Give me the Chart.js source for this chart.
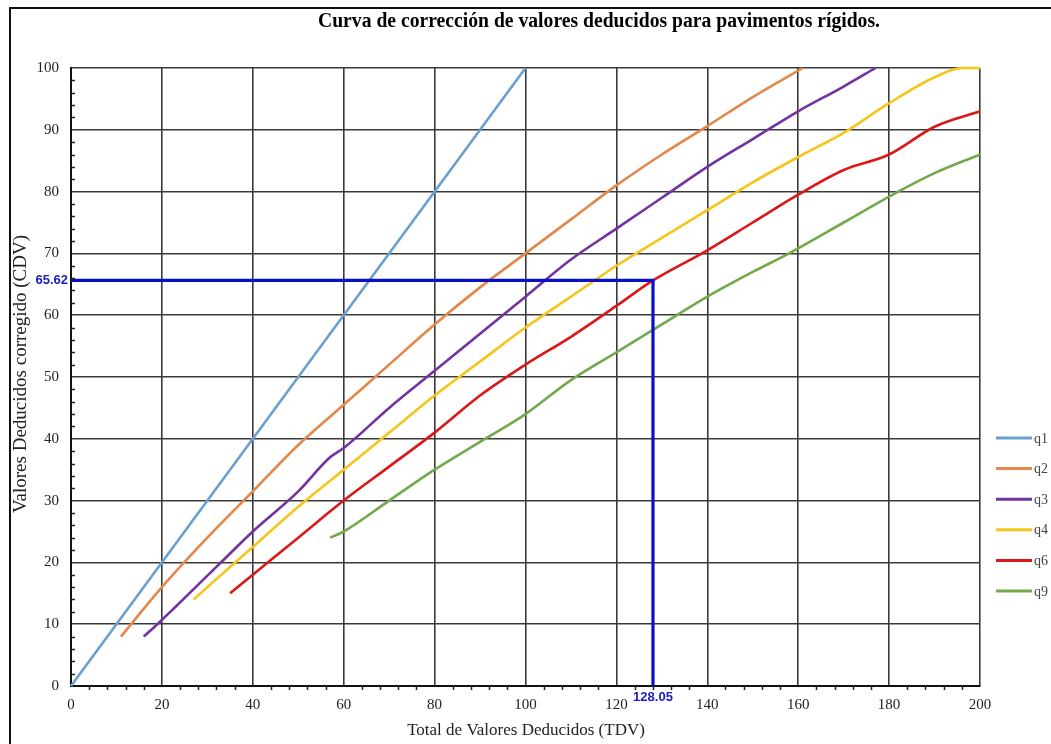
<!DOCTYPE html>
<html>
<head>
<meta charset="utf-8">
<script src="https://cdn.jsdelivr.net/npm/chart.js@4.4.1/dist/chart.umd.min.js"></script>
<style>
  html, body { margin: 0; padding: 0; background: #ffffff; }
  #c { display: block; }
</style>
</head>
<body>
<canvas id="c" width="1051" height="744"></canvas>
<script>
// Correction curves (CDV vs TDV) for rigid pavements, one per q value
const seriesNames = ['q1', 'q2', 'q3', 'q4', 'q6', 'q9'];
const seriesColors = ['#6a9fcf', '#e3874a', '#7232a2', '#f5c518', '#dc1717', '#74a84c'];

const q1X = [0, 100];
const q1Y = [0, 100];

const q2X = [11, 20, 30, 40, 50, 60, 70, 80, 90, 100, 110, 120, 130, 140, 150, 161];
const q2Y = [8, 16, 24, 31.5, 39, 45.5, 52, 58.5, 64.5, 70, 75.5, 81, 86, 90.6, 95.3, 100];

const q3X = [16, 19, 33, 40, 50, 57, 60, 70, 80, 90, 100, 110, 120, 130, 140, 150, 160, 170, 177];
const q3Y = [8, 10, 20, 25, 31.5, 37, 38.5, 45, 51, 57, 63, 69, 74, 79, 84, 88.5, 93, 97, 100];

const q4X = [27, 30, 40, 50, 60, 70, 80, 90, 100, 110, 120, 130, 140, 150, 160, 170, 180, 190, 196, 200];
const q4Y = [14, 16, 22.5, 29, 35, 41, 47, 52.5, 58, 63, 68, 72.5, 77, 81.5, 85.6, 89.5, 94.3, 98.5, 100, 100];

const q6X = [35, 40, 50, 60, 70, 80, 90, 100, 110, 120, 128.05, 140, 150, 160, 170, 180, 190, 200];
const q6Y = [15, 18, 24, 30, 35.5, 41, 47, 52, 56.5, 61.5, 65.62, 70.5, 75, 79.5, 83.5, 86, 90.5, 93];

const q9X = [57, 60, 70, 80, 90, 100, 110, 120, 130, 140, 150, 158, 170, 182, 190, 200];
const q9Y = [24, 25, 30, 35, 39.5, 44, 49.5, 54, 58.5, 63, 67, 70, 75, 80, 83, 86];

// Reading for the example: TDV = 128.05 gives CDV = 65.62
const readTDV = 128.05;
const readCDV = 65.62;

const xTicks = [0, 20, 40, 60, 80, 100, 120, 140, 160, 180, 200];
const yTicks = [0, 10, 20, 30, 40, 50, 60, 70, 80, 90, 100];

const titleText = 'Curva de corrección de valores deducidos para pavimentos rígidos.';
const xTitle = 'Total de Valores Deducidos (TDV)';
const yTitle = 'Valores Deducidos corregido (CDV)';

const allX = [q1X, q2X, q3X, q4X, q6X, q9X];
const allY = [q1Y, q2Y, q3Y, q4Y, q6Y, q9Y];

const toPoints = (xs, ys) => xs.map((x, i) => ({ x: x, y: ys[i] }));

const datasets = seriesNames.map((name, i) => ({
  label: name,
  data: toPoints(allX[i], allY[i]),
  borderColor: seriesColors[i],
  backgroundColor: seriesColors[i],
  borderWidth: 2.6,
  pointRadius: 0,
  cubicInterpolationMode: 'monotone',
  clip: false,
  order: 1
}));

datasets.push({
  label: 'lectura',
  data: [{ x: 0, y: readCDV }, { x: readTDV, y: readCDV }, { x: readTDV, y: 0 }],
  borderColor: '#0a10c8',
  borderWidth: 3.2,
  pointRadius: 0,
  tension: 0,
  clip: false,
  order: 0
});

const SERIF = '"Liberation Serif", "DejaVu Serif", serif';

// Frame, minor ticks, titles, legend and reading labels
const decorations = {
  id: 'decorations',
  beforeDraw(chart) {
    const ctx = chart.ctx;
    ctx.save();
    ctx.fillStyle = '#ffffff';
    ctx.fillRect(0, 0, chart.width, chart.height);
    ctx.strokeStyle = '#111';
    ctx.lineWidth = 2;
    ctx.beginPath();
    ctx.moveTo(10, chart.height);
    ctx.lineTo(10, 8);
    ctx.lineTo(chart.width, 8);
    ctx.stroke();
    ctx.restore();
  },
  afterDraw(chart) {
    const ctx = chart.ctx;
    const xs = chart.scales.x, ys = chart.scales.y;
    const area = chart.chartArea;
    ctx.save();

    // minor ticks
    ctx.strokeStyle = '#222';
    ctx.lineWidth = 1.5;
    ctx.beginPath();
    for (let v = 4; v < 200; v += 4) {
      if (v % 20 === 0) continue;
      const px = Math.round(xs.getPixelForValue(v)) + 0.5;
      ctx.moveTo(px, area.bottom);
      ctx.lineTo(px, area.bottom + 4);
    }
    for (let v = 2; v < 100; v += 2) {
      if (v % 10 === 0) continue;
      const py = Math.round(ys.getPixelForValue(v)) + 0.5;
      ctx.moveTo(area.left, py);
      ctx.lineTo(area.left + 4, py);
    }
    ctx.stroke();

    // title
    ctx.fillStyle = '#000';
    ctx.font = 'bold 20px ' + SERIF;
    ctx.textBaseline = 'middle';
    ctx.textAlign = 'center';
    const tw = ctx.measureText(titleText).width;
    const target = 562;
    ctx.save();
    ctx.translate(599, 22);
    ctx.scale(target / tw, 1);
    ctx.fillText(titleText, 0, 0);
    ctx.restore();

    // axis titles
    ctx.fillStyle = '#222';
    ctx.font = '17px ' + SERIF;
    ctx.textAlign = 'center';
    ctx.fillText(xTitle, 526, 731);
    ctx.save();
    ctx.translate(21, 374);
    ctx.rotate(-Math.PI / 2);
    ctx.font = '19px ' + SERIF;
    ctx.fillText(yTitle, 0, 0);
    ctx.restore();

    // legend
    ctx.font = '14px ' + SERIF;
    ctx.textAlign = 'left';
    chart.data.datasets.slice(0, seriesNames.length).forEach((ds, i) => {
      const y = 438 + i * 30.6;
      ctx.strokeStyle = ds.borderColor;
      ctx.lineWidth = 3;
      ctx.beginPath();
      ctx.moveTo(996, y);
      ctx.lineTo(1032, y);
      ctx.stroke();
      ctx.fillStyle = '#444';
      ctx.fillText(ds.label, 1034, y + 1);
    });

    // reading labels
    ctx.fillStyle = '#1a1ac0';
    ctx.font = 'bold 13px "Liberation Sans", Arial, sans-serif';
    ctx.textAlign = 'right';
    ctx.fillText(readCDV.toFixed(2), 68, ys.getPixelForValue(readCDV));
    ctx.textAlign = 'center';
    ctx.fillText(readTDV.toFixed(2), xs.getPixelForValue(readTDV), area.bottom + 11);

    ctx.restore();
  }
};

new Chart(document.getElementById('c'), {
  type: 'line',
  data: { datasets: datasets },
  options: {
    responsive: false,
    animation: false,
    events: [],
    layout: { padding: { top: 68, right: 71, left: 0, bottom: 0 } },
    plugins: { legend: { display: false }, title: { display: false }, tooltip: { enabled: false } },
    scales: {
      x: {
        type: 'linear',
        min: 0, max: 200,
        afterFit(scale) { scale.height = 58; },
        afterBuildTicks(scale) { scale.ticks = xTicks.map(v => ({ value: v })); },
        ticks: { color: '#222', font: { family: SERIF, size: 15 }, padding: 10, maxRotation: 0 },
        grid: { color: '#3a3a3a', lineWidth: 1.6, drawTicks: false },
        border: { color: '#111', width: 2 }
      },
      y: {
        type: 'linear',
        min: 0, max: 100,
        afterFit(scale) { scale.width = 71; },
        afterBuildTicks(scale) { scale.ticks = yTicks.map(v => ({ value: v })); },
        ticks: { color: '#222', font: { family: SERIF, size: 15 }, padding: 12 },
        grid: { color: '#3a3a3a', lineWidth: 1.6, drawTicks: false },
        border: { color: '#111', width: 2 }
      }
    }
  },
  plugins: [decorations]
});
</script>
</body>
</html>
